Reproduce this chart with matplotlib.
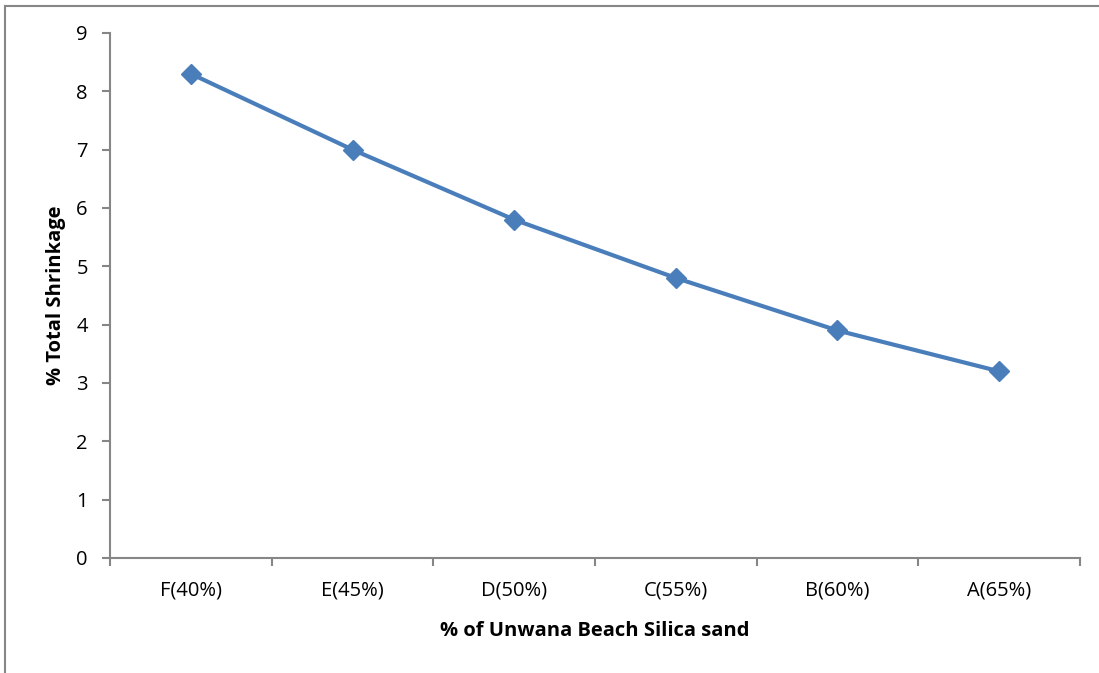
import numpy as np
import matplotlib.pyplot as plt
from matplotlib.lines import Line2D

# data
categories = ['F(40%)', 'E(45%)', 'D(50%)', 'C(55%)', 'B(60%)', 'A(65%)']
shrinkage = [8.3, 7.0, 5.8, 4.8, 3.9, 3.2]

plt.rcParams['font.family'] = ['Open Sans', 'DejaVu Sans']

fig = plt.figure(figsize=(10.99, 6.73), dpi=100)
ax = fig.add_axes([0.1001, 0.1709, 0.8826, 0.7801])

x = np.arange(len(categories))
ax.plot(x, shrinkage, color='#4A7EBB', lw=3, marker='D', markersize=10)

ax.set_xlim(-0.5, len(categories) - 0.5)
ax.set_ylim(0, 9)
ax.set_yticks(range(0, 10))
ax.set_xticks(x)
ax.set_xticklabels(categories)
ax.set_xticks(np.arange(-0.5, len(categories), 1), minor=True)
ax.tick_params(axis='x', which='major', length=0, pad=16, labelsize=14.5)
ax.tick_params(axis='x', which='minor', length=6, color='#868686', width=1.5)
ax.tick_params(axis='y', length=6, color='#868686', width=1.5, pad=10, labelsize=14.5)

for s in ['top', 'right']:
    ax.spines[s].set_visible(False)
for s in ['left', 'bottom']:
    ax.spines[s].set_color('#868686')
    ax.spines[s].set_linewidth(1.5)

ax.set_xlabel('% of Unwana Beach Silica sand', fontsize=14.5, fontweight='bold', labelpad=15)
ax.set_ylabel('% Total Shrinkage', fontsize=14.5, fontweight='bold', labelpad=7)

# outer chart border
fig.add_artist(Line2D([5/1099, 5/1099], [0, 1 - 6/673], color='#868686', lw=1.5))
fig.add_artist(Line2D([5/1099, 1], [1 - 6/673, 1 - 6/673], color='#868686', lw=1.5))

plt.savefig('out.png', dpi=100)
